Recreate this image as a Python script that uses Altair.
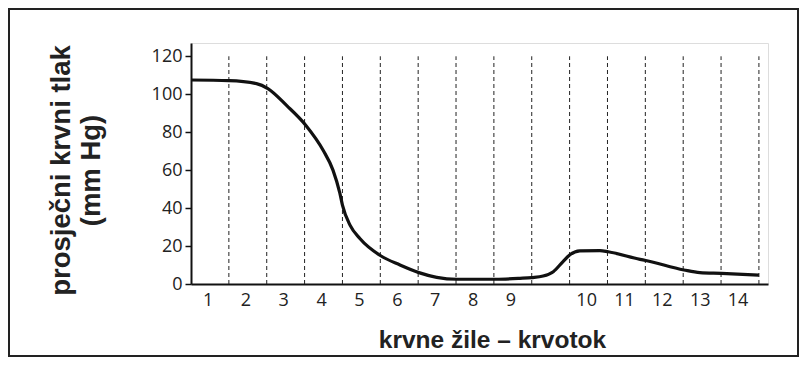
import altair as alt
import pandas as pd

# curve: position along the vascular tree (band units) and mean blood pressure (mm Hg)
x_pos = [0, 1.0, 1.73, 2.03, 2.53, 3.03, 3.49, 3.75, 3.93, 4.0, 4.2, 4.46, 5.0, 5.52,
         6.02, 6.49, 7.02, 8.05, 8.69, 9.0, 9.3, 9.57, 9.82, 10.0, 10.27, 10.8, 11.02, 11.86,
         12.01, 13.02, 13.44, 14.01, 15.0]
pressure = [107.5, 107.2, 105.6, 103, 94, 83.7, 70.5, 60, 48, 41.6, 31, 24, 15, 10,
            6, 3.5, 2.5, 2.5, 3, 3.4, 4.2, 6.5, 11.7, 15.3, 17.5, 17.6, 17, 13.0,
            12.4, 7.4, 6, 5.6, 4.7]

# dashed separators between vessel bands
separators = list(range(1, 16))

# category labels and the band they sit in (band 10 is unlabelled)
x_labels = ["1", "2", "3", "4", "5", "6", "7", "8", "9", "10", "11", "12", "13", "14"]
label_band = [1, 2, 3, 4, 5, 6, 7, 8, 9, 11, 12, 13, 14, 15]

y_ticks = [0, 20, 40, 60, 80, 100, 120]

curve_df = pd.DataFrame({"x": x_pos, "p": pressure})
sep_df = pd.DataFrame({"x": separators, "y0": [0] * len(separators), "y1": [120] * len(separators)})
lab_df = pd.DataFrame({"x": [b - 0.55 for b in label_band], "label": x_labels, "y": [0] * len(x_labels)})

xscale = alt.Scale(domain=[0, 15.24], nice=False, zero=False)
yscale = alt.Scale(domain=[0, 127], nice=False)

base_font = "Open Sans"
title_font = "Liberation Sans"

x_axis = alt.Axis(
    values=[], ticks=False, labels=False, grid=False,
    domainColor="#111", domainWidth=2,
    title="krvne žile – krvotok", titleFont=title_font, titleFontSize=24.5,
    titleFontWeight="bold", titleColor="#222",
    titleX=301, titleY=56, titleAlign="center", titleBaseline="middle",
)
y_axis = alt.Axis(
    values=y_ticks, grid=False, domainColor="#111", domainWidth=2,
    tickColor="#111", tickSize=6, tickWidth=1.5,
    labelFont=base_font, labelFontSize=18, labelColor="#222", labelPadding=3,
    title=["prosječni krvni tlak", "(mm Hg)"], titleFont=title_font, titleFontSize=27.5,
    titleFontWeight="bold", titleColor="#222", titleLineHeight=30,
    titleAngle=-90, titleX=-130, titleY=127, titleAlign="center", titleBaseline="middle",
)

seps = alt.Chart(sep_df).mark_rule(color="#222", strokeWidth=1, strokeDash=[4, 3]).encode(
    x=alt.X("x:Q", scale=xscale, axis=x_axis),
    y=alt.Y("y0:Q", scale=yscale, axis=y_axis),
    y2="y1:Q",
)

line = alt.Chart(curve_df).mark_line(color="#111", strokeWidth=3.2, interpolate="monotone").encode(
    x=alt.X("x:Q", scale=xscale),
    y=alt.Y("p:Q", scale=yscale),
)

labels = alt.Chart(lab_df).mark_text(
    font=base_font, fontSize=18, color="#222", baseline="middle", align="center", dy=17
).encode(
    x=alt.X("x:Q", scale=xscale),
    y=alt.Y("y:Q", scale=yscale),
    text="label:N",
)

frame = alt.Chart(pd.DataFrame({"a": [0]})).mark_rect(
    fill=None, stroke="#222", strokeWidth=2
).encode(
    x=alt.value(-182), x2=alt.value(607), y=alt.value(-34), y2=alt.value(313)
)

chart = alt.layer(seps, line, labels, frame).properties(
    width=577, height=241,
    autosize=alt.AutoSizeParams(type="none"),
    padding={"left": 183, "top": 35, "right": 31, "bottom": 73},
).configure_view(stroke=None).configure(background="white")

chart.save("out.html", embed_options={"renderer": "svg", "actions": False})
